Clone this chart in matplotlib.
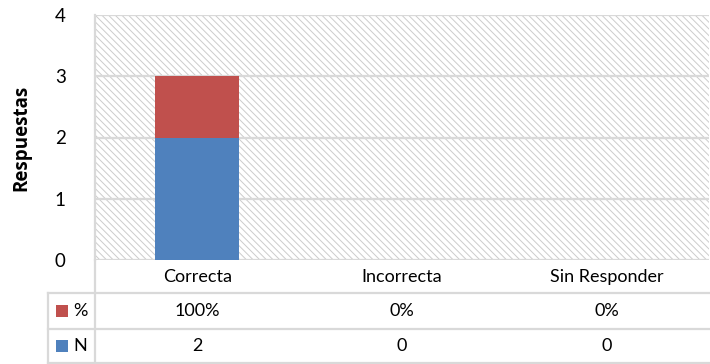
import matplotlib.pyplot as plt
from matplotlib.patches import Rectangle

plt.rcParams['font.family'] = ['Lato', 'DejaVu Sans']
plt.rcParams['hatch.linewidth'] = 0.7

categories = ["Correcta", "Incorrecta", "Sin Responder"]
n_values = [2, 0, 0]
pct_values = [1.0, 0.0, 0.0]
pct_labels = ["100%", "0%", "0%"]
yticks = [0, 1, 2, 3, 4]

blue = '#4F81BD'
red = '#C0504D'
grid = '#d9d9d9'
fs = 13

fig = plt.figure(figsize=(7.10, 3.64), dpi=100)
ax = fig.add_axes([95 / 710, 104 / 364, 614 / 710, 245 / 364])

# hatched plot area
ax.add_patch(Rectangle((0, 0), 1, 1, transform=ax.transAxes, facecolor='white',
                       edgecolor='#cccccc', linewidth=0, hatch='\\' * 5, zorder=0))

x = list(range(len(categories)))
ax.bar(x, n_values, width=0.41, color=blue, zorder=3)
ax.bar(x, pct_values, width=0.41, bottom=n_values, color=red, zorder=3)

ax.set_xlim(-0.5, len(categories) - 0.5)
ax.set_ylim(0, 4)
ax.set_yticks(yticks)
ax.set_yticklabels([str(t) for t in yticks], fontsize=13.5)
ax.tick_params(axis='y', length=0, pad=21)
ax.set_xticks([])
for y in yticks:
    ax.axhline(y, color=grid, linewidth=1.6, zorder=1)
for side in ['top', 'right', 'bottom']:
    ax.spines[side].set_visible(False)
ax.spines['left'].set_color(grid)
ax.spines['left'].set_linewidth(1.6)
ax.set_ylabel("Respuestas", fontsize=13.5, fontweight='bold', labelpad=17,
              family=['Open Sans', 'DejaVu Sans'])

# data table under the axis
row_tops = [0.0, -0.1347, -0.2816, -0.4204]
row_mid = [(row_tops[i] + row_tops[i + 1]) / 2 for i in range(3)]
tr = ax.get_xaxis_transform()
for i, cat in enumerate(categories):
    ax.text(i, row_mid[0], cat, transform=tr, ha='center', va='center', fontsize=fs)
    ax.text(i, row_mid[1], pct_labels[i], transform=tr, ha='center', va='center', fontsize=fs)
    ax.text(i, row_mid[2], str(n_values[i]), transform=tr, ha='center', va='center', fontsize=fs)

left_edge = -47 / 614
line_kw = dict(transform=ax.transAxes, color=grid, linewidth=1.6, clip_on=False)
for yy in row_tops[1:]:
    ax.plot([left_edge, 1], [yy, yy], **line_kw)
ax.plot([0, 0], [0, row_tops[-1]], **line_kw)
ax.plot([left_edge, left_edge], [row_tops[1], row_tops[-1]], **line_kw)

# legend keys inside the table's first column
for yy, col, lab in [(row_mid[1], red, '%'), (row_mid[2], blue, 'N')]:
    ax.add_patch(Rectangle((-39 / 614, yy - 6 / 245), 12 / 614, 12 / 245,
                           transform=ax.transAxes, facecolor=col, clip_on=False))
    ax.text(-22 / 614, yy, lab, transform=ax.transAxes, ha='left', va='center', fontsize=fs)

fig.savefig('out.png', dpi=100)
